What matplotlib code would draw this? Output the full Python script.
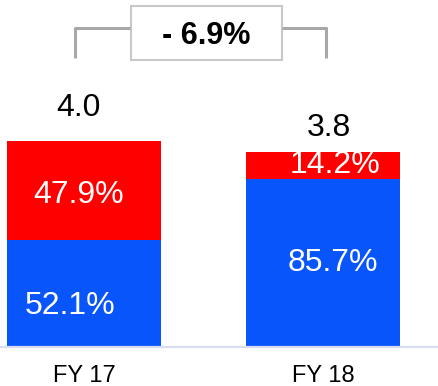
import matplotlib.pyplot as plt
from matplotlib.patches import Rectangle

plt.rcParams['font.family'] = ['Liberation Sans', 'DejaVu Sans']

years = ['FY 17', 'FY 18']
totals = [4.0, 3.8]
share_blue = [52.1, 85.7]
share_red = [47.9, 14.2]
change_label = '- 6.9%'

blue = '#0755FB'
red = '#FF0000'

fig = plt.figure(figsize=(4.38, 3.86), dpi=100)
ax = fig.add_axes([0, 39.5 / 386, 1, 346.5 / 386])

x = list(range(len(years)))
blue_part = [t * s / 100 for t, s in zip(totals, share_blue)]
red_part = [t * s / 100 for t, s in zip(totals, share_red)]

width = 0.644
ax.bar(x, blue_part, width, color=blue)
ax.bar(x, red_part, width, bottom=blue_part, color=red)

ax.set_xlim(-0.3515, 1.4812)
ax.set_ylim(0, 6.75)

# label offsets in points
offsets_blue = [(-10, -9), (7, 0)]
offsets_red = [(-4, -3), (9, 0)]
offsets_total = [(-4, 24), (4, 17)]
for i in x:
    ax.annotate(f'{share_blue[i]:.1f}%', (i, blue_part[i] / 2),
                xytext=offsets_blue[i], textcoords='offset points',
                ha='center', va='center', color='white', fontsize=23)
    ax.annotate(f'{share_red[i]:.1f}%', (i, blue_part[i] + red_part[i] / 2),
                xytext=offsets_red[i], textcoords='offset points',
                ha='center', va='center', color='white', fontsize=23)
    ax.annotate(f'{totals[i]:.1f}', (i, totals[i]),
                xytext=offsets_total[i], textcoords='offset points',
                ha='center', va='center', color='black', fontsize=23)

ax.set_xticks(x)
ax.set_xticklabels(years, fontsize=17)
ax.tick_params(axis='x', length=0, pad=13)
ax.set_yticks([])
for side in ['top', 'left', 'right']:
    ax.spines[side].set_visible(False)
ax.spines['bottom'].set_color('#D6DDF2')
ax.spines['bottom'].set_linewidth(1.6)

# change bracket above the bars, in figure pixels
def fx(px):
    return px / 438

def fy(py):
    return 1 - py / 386

gray = '#A8A8A8'
fig.add_artist(plt.Line2D([fx(75), fx(75), fx(130)], [fy(58), fy(28), fy(28)],
                          color=gray, lw=2.2, solid_capstyle='butt'))
fig.add_artist(plt.Line2D([fx(282), fx(326), fx(326)], [fy(28), fy(28), fy(58)],
                          color=gray, lw=2.2, solid_capstyle='butt'))
fig.add_artist(Rectangle((fx(131), fy(60)), fx(282) - fx(131), fy(6) - fy(60),
                         transform=fig.transFigure, facecolor='white',
                         edgecolor='#C8C8C8', lw=1.5))
fig.text(fx(206), fy(36), change_label, ha='center', va='center',
         fontsize=22, fontweight='bold', color='black')

fig.savefig('out.png', dpi=100)
